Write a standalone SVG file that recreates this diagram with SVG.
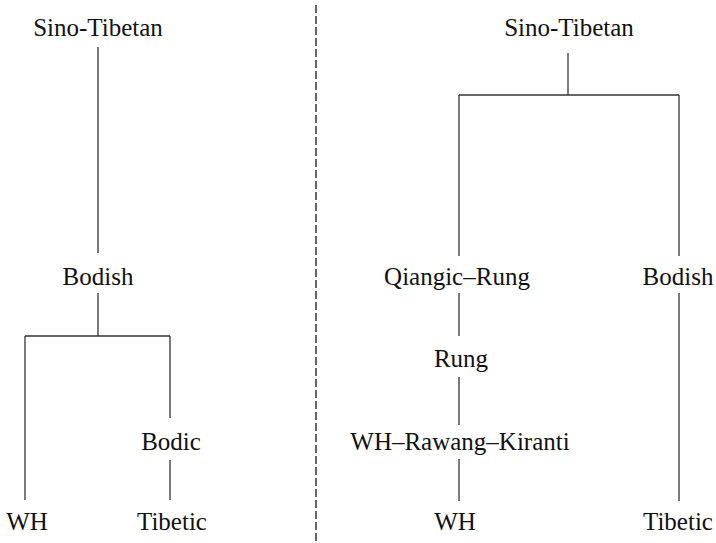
<svg xmlns="http://www.w3.org/2000/svg" width="716" height="543" viewBox="0 0 716 543">
<style>
text{font-family:"Liberation Serif","DejaVu Serif",serif;font-size:25px;fill:#111;text-anchor:middle}
.c line{stroke:#333;stroke-width:1.3;fill:none}
.d{stroke:#555;stroke-width:1.8;stroke-dasharray:8 3}
</style>
<rect width="716" height="543" fill="#fff"/>
<line class="d" x1="316" y1="5" x2="316" y2="543"/>
<g class="c" id="connectors">
<line x1="98" y1="47" x2="98" y2="253"/>
<line x1="98" y1="293" x2="98" y2="336"/>
<line x1="25" y1="336" x2="170" y2="336"/>
<line x1="25" y1="336" x2="25" y2="500"/>
<line x1="170" y1="336" x2="170" y2="418"/>
<line x1="170" y1="460" x2="170" y2="500"/>
<line x1="568" y1="53" x2="568" y2="95"/>
<line x1="459" y1="95" x2="679" y2="95"/>
<line x1="459" y1="95" x2="459" y2="256"/>
<line x1="679" y1="95" x2="679" y2="256"/>
<line x1="459" y1="293" x2="459" y2="336"/>
<line x1="459" y1="377" x2="459" y2="425"/>
<line x1="459" y1="459" x2="459" y2="501"/>
<line x1="679" y1="293" x2="679" y2="501"/>
</g>
<g id="l-sinotibetan"><text x="98" y="36">Sino-Tibetan</text></g>
<g id="l-bodish"><text x="98" y="285">Bodish</text></g>
<g id="l-bodic"><text x="171" y="450">Bodic</text></g>
<g id="l-wh"><text x="27" y="530">WH</text></g>
<g id="l-tibetic"><text x="172" y="530">Tibetic</text></g>
<g id="r-sinotibetan"><text x="569" y="36">Sino-Tibetan</text></g>
<g id="r-qiangicrung"><text x="457" y="285">Qiangic–Rung</text></g>
<g id="r-bodish"><text x="678" y="285">Bodish</text></g>
<g id="r-rung"><text x="461" y="367">Rung</text></g>
<g id="r-whrk"><text x="460" y="450">WH–Rawang–Kiranti</text></g>
<g id="r-wh"><text x="455" y="530">WH</text></g>
<g id="r-tibetic"><text x="678" y="530">Tibetic</text></g>
</svg>
